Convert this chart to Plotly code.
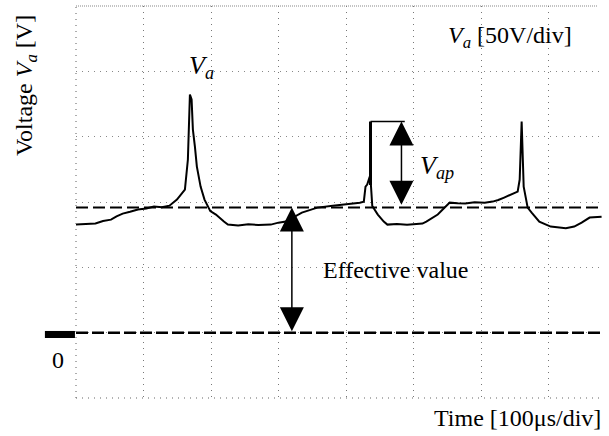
import plotly.graph_objects as go

# ---- data ----
time_us = [0, 15, 28.8, 40, 51.8, 60, 69.1, 80, 91.7, 104, 115.4, 127, 138.3, 149.4, 161.2, 165.6, 167.1,
           168.6, 171.1, 173.0, 176.0, 178.9, 184.4, 190.2, 198.8, 207.1, 218.9, 224.8, 240, 255, 270,
           288.4, 299.6, 310.6, 334.3, 357.2, 380.1, 397.9, 412, 420.1, 426.0, 428.5, 431, 434.8, 436.5,
           438.5, 446.7, 455.5, 460.9, 475, 490, 512.8, 518.5, 535.4, 547.2, 553.1, 565, 576.2, 590,
           604.9, 616.7, 625, 633.7, 644.8, 653.7, 656.7, 659.6, 662.6, 665.6, 668.5, 674.4, 685.7,
           702.5, 714.4, 725, 737.4, 748.4, 760.2, 770, 777.9]
voltage_v = [82.7, 83.0, 83.5, 85.5, 86.5, 89.0, 91.1, 92.5, 94.2, 95.0, 96.5, 96.0, 97.2, 101.8, 109.5, 132.5, 165.4,
             182.2, 178.4, 155.4, 142.4, 127.1, 111.8, 101.8, 93.0, 90.4, 85.0, 82.7, 82.0, 83.0, 82.4,
             82.7, 84.2, 85.0, 91.9, 95.7, 97.2, 98.0, 98.6, 99.5, 100.3, 111.8, 113.3, 119.4, 113.0,
             97.0, 90.4, 85.0, 82.7, 83.2, 82.5, 83.5, 85.0, 90.4, 96.5, 99.5, 99.0, 98.8, 99.8,
             99.5, 100.3, 101.5, 103.4, 105.7, 108.0, 117.2, 161.6, 111.8, 101.8, 95.7, 91.9, 85.0,
             81.2, 80.4, 80.0, 81.2, 84.2, 88.1, 88.3, 88.8]

effective_value = 95.7      # V, dashed level
vap_peak = 161.6            # V, top of the V_ap bracket
vap_bracket_t = [435.9, 486.6]
vap_arrow_t = 481.7
eff_arrow_t = 319.5

x_range = [0, 780]
y_range = [-50, 250]

FONT = "Liberation Serif"

fig = go.Figure()
fig.add_trace(go.Scatter(x=time_us, y=voltage_v, mode="lines",
                         line=dict(color="black", width=2), showlegend=False, hoverinfo="skip"))

shapes = []
# dashed effective value line and zero line
shapes.append(dict(type="line", xref="paper", x0=0, x1=1, yref="y", y0=effective_value, y1=effective_value,
                   line=dict(color="black", width=2, dash="12px,5px")))
shapes.append(dict(type="line", xref="paper", x0=0, x1=1, yref="y", y0=0, y1=0,
                   line=dict(color="black", width=2.5, dash="12px,4px")))
# borders (dotted)
shapes.append(dict(type="line", xref="paper", x0=0, x1=0.99, yref="paper", y0=1, y1=1,
                   line=dict(color="#888", width=1.2, dash="1px,1px")))
shapes.append(dict(type="line", xref="paper", x0=0, x1=1, yref="paper", y0=0, y1=0,
                   line=dict(color="#666", width=1.2, dash="1px,5px")))
shapes.append(dict(type="line", xref="paper", x0=0, x1=0, yref="paper", y0=0, y1=1,
                   line=dict(color="#777", width=1.2, dash="1px,5px")))
# ground marker
shapes.append(dict(type="rect", xref="paper", x0=-0.059, x1=-0.002, yref="paper", y0=0.153, y1=0.171,
                   fillcolor="black", line=dict(width=0)))
# V_ap bracket
shapes.append(dict(type="line", xref="x", yref="y", x0=vap_bracket_t[0], x1=vap_bracket_t[0], y0=113, y1=vap_peak,
                   line=dict(color="black", width=3)))
shapes.append(dict(type="line", xref="x", yref="y", x0=vap_bracket_t[0], x1=vap_bracket_t[1], y0=vap_peak, y1=vap_peak,
                   line=dict(color="black", width=1.5)))

ann = []
# double arrows
for t, y0, y1 in [(eff_arrow_t, 0, effective_value), (vap_arrow_t, effective_value + 1, vap_peak)]:
    ann.append(dict(x=t, y=y1, ax=t, ay=y0, xref="x", yref="y", axref="x", ayref="y", text="",
                    showarrow=True, arrowhead=2, startarrowhead=2, arrowside="end+start",
                    arrowwidth=1.5, arrowsize=3.2, startarrowsize=3.2, arrowcolor="black"))

txt = dict(family=FONT, size=24, color="black")
ann.append(dict(x=642, y=226.6, xref="x", yref="y", showarrow=False, font=txt,
                xanchor="center", yanchor="middle",
                text="<i>V</i><sub><i>a</i></sub> [50V/div]"))
ann.append(dict(x=186, y=203, xref="x", yref="y", showarrow=False, font=dict(family=FONT, size=26, color="black"),
                xanchor="center", yanchor="middle", text="<i>V</i><sub><i>a</i></sub>"))
ann.append(dict(x=535, y=127, xref="x", yref="y", showarrow=False, font=dict(family=FONT, size=26, color="black"),
                xanchor="center", yanchor="middle", text="<i>V</i><sub><i>ap</i></sub>"))
ann.append(dict(x=473, y=48.2, xref="x", yref="y", showarrow=False, font=txt,
                xanchor="center", yanchor="middle", text="Effective value"))
ann.append(dict(x=-0.034, y=-20.7, xref="paper", yref="y", showarrow=False, font=txt,
                xanchor="center", yanchor="middle", text="0"))
ann.append(dict(x=1.0, y=-0.051, xref="paper", yref="paper", xanchor="right", yanchor="middle",
                showarrow=False, font=txt, text="Time [100μs/div]"))
ann.append(dict(x=-0.095, y=0.798, xref="paper", yref="paper", textangle=-90, showarrow=False,
                xanchor="center", yanchor="middle",
                font=dict(family=FONT, size=24, color="black"),
                text="Voltage <i>V</i><sub><i>a</i></sub> [V]"))

fig.update_layout(
    width=609, height=436,
    margin=dict(l=76, r=6, t=6, b=38),
    paper_bgcolor="white", plot_bgcolor="white",
    shapes=shapes, annotations=ann, showlegend=False,
    xaxis=dict(range=x_range, dtick=100, tick0=0, showticklabels=False, ticks="", zeroline=False,
               showgrid=True, gridcolor="#777", gridwidth=1.2, griddash="1px,5px", showline=False),
    yaxis=dict(range=y_range, dtick=50, tick0=0, showticklabels=False, ticks="", zeroline=False,
               showgrid=True, gridcolor="#888", gridwidth=1.2, griddash="1px,5px", showline=False),
)
fig.write_html("out.html", config={"displayModeBar": False},
               post_script="document.body.style.margin='0px';document.body.style.overflow='hidden';")
